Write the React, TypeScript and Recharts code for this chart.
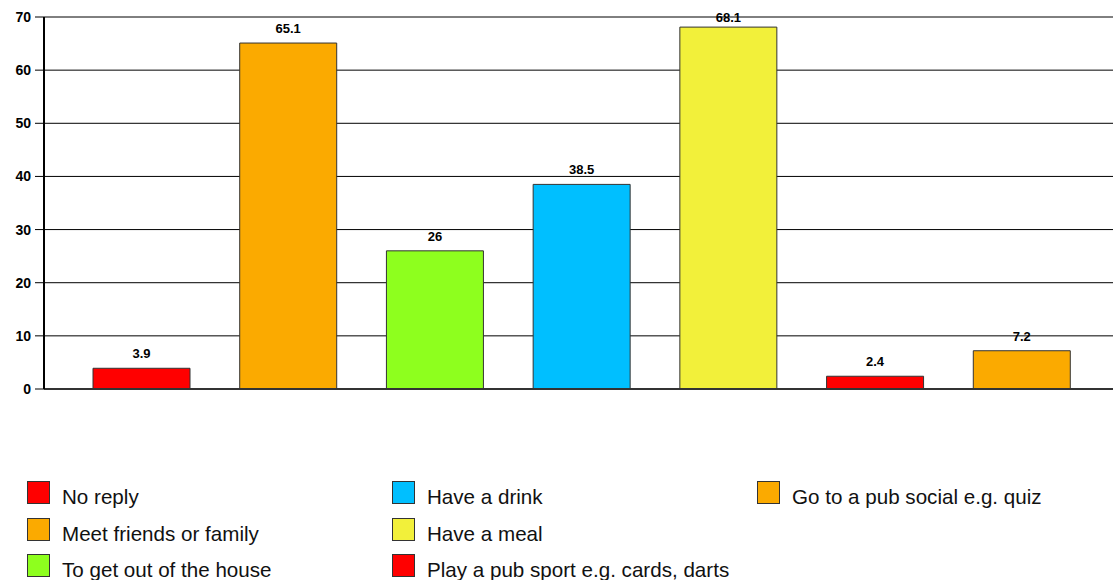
import { BarChart, Bar, XAxis, YAxis, CartesianGrid, Cell, LabelList } from 'recharts';

const categories = [
  'No reply',
  'Meet friends or family',
  'To get out of the house',
  'Have a drink',
  'Have a meal',
  'Play a pub sport e.g. cards, darts',
  'Go to a pub social e.g. quiz',
];
const percentages = [3.9, 65.1, 26, 38.5, 68.1, 2.4, 7.2];
const barColors = ['#ff0000', '#fbaa00', '#8eff1e', '#00bfff', '#f2f03a', '#ff0000', '#fbaa00'];
const yTicks = [0, 10, 20, 30, 40, 50, 60, 70];

const data = categories.map((name, i) => ({ name, value: percentages[i] }));

const FONT = '"Liberation Sans", Arial, sans-serif';
const PLOT_TOP = 17;

// value above each bar, kept from running above the plot area
const ValueLabel = (props: any) => {
  const { x, y, width, value } = props;
  const baseline = Math.max(y - 10, PLOT_TOP + 5);
  return (
    <text
      x={x + width / 2}
      y={baseline}
      textAnchor="middle"
      fontSize={13}
      fontWeight="bold"
      fill="#000"
    >
      {value}
    </text>
  );
};

// legend is laid out column by column, three rows per column
function LegendBlock() {
  return (
    <>
      {categories.map((name, i) => {
        const col = Math.floor(i / 3);
        const row = i % 3;
        const left = 27 + col * 365;
        const top = 481 + row * 36.5;
        return (
          <div key={name} style={{ position: 'absolute', left, top, display: 'flex', alignItems: 'flex-start' }}>
            <span
              style={{
                width: 21, height: 21, background: barColors[i],
                border: '1px solid #333', display: 'inline-block',
              }}
            />
            <span
              style={{
                marginLeft: 12, marginTop: 4, fontSize: 20.6, lineHeight: '23px',
                color: '#111', fontFamily: FONT, whiteSpace: 'nowrap',
              }}
            >
              {name}
            </span>
          </div>
        );
      })}
    </>
  );
}

export default function App() {
  return (
    <div style={{ position: 'absolute', left: 0, top: 0, width: 1113, height: 580, overflow: 'hidden', background: '#fff' }}>
      <BarChart
        width={1120}
        height={580}
        data={data}
        margin={{ top: PLOT_TOP, right: 1, left: 0, bottom: 190 }}
        style={{ fontFamily: FONT }}
      >
        <CartesianGrid vertical={false} stroke="#000" />
        <XAxis
          dataKey="name"
          height={1}
          tick={false}
          tickLine={false}
          axisLine={{ stroke: '#333', strokeWidth: 2 }}
          padding={{ left: 24, right: 24 }}
        />
        <YAxis
          width={44}
          domain={[0, 70]}
          ticks={yTicks}
          interval={0}
          tickSize={9}
          tickMargin={4}
          axisLine={{ stroke: '#000', strokeWidth: 2 }}
          tickLine={{ stroke: '#000' }}
          tick={{ fontSize: 14, fontWeight: 'bold', fill: '#000' }}
        />
        <Bar dataKey="value" barSize={97} stroke="#333" strokeWidth={1} isAnimationActive={false}>
          {data.map((d, i) => (
            <Cell key={d.name} fill={barColors[i]} />
          ))}
          <LabelList dataKey="value" content={ValueLabel} />
        </Bar>
      </BarChart>
      <LegendBlock />
    </div>
  );
}
